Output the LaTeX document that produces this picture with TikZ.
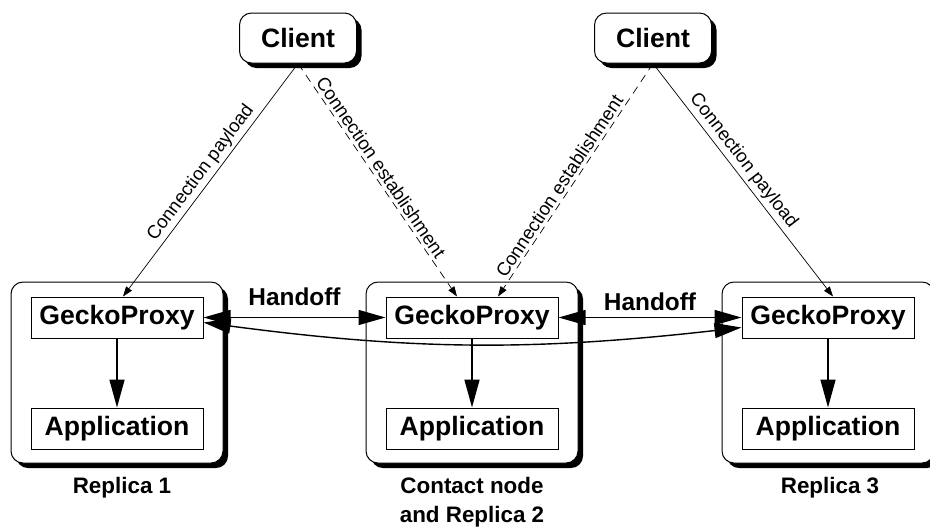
\documentclass[tikz,border=0pt]{standalone}
\usepackage{fontspec}
\setmainfont{Liberation Sans}
\usetikzlibrary{arrows.meta,shadows}

\tikzset{
	boxshadow/.style={drop shadow={shadow xshift=2.5pt,shadow yshift=-2.5pt,fill=black,opacity=1}},
	client/.style={draw,line width=0.5pt,rounded corners=6pt,fill=white,minimum width=58.5pt,minimum height=25pt,inner sep=0pt,font=\fontsize{13.3}{16}\selectfont\bfseries,boxshadow},
	replica/.style={draw,line width=0.5pt,rounded corners=6pt,fill=white,minimum width=106pt,minimum height=90.5pt,boxshadow},
	part/.style={draw,line width=0.5pt,fill=white,minimum width=86pt,minimum height=20.5pt,inner sep=0pt,font=\fontsize{13.3}{16}\selectfont\bfseries},
	bigarrow/.style={line width=0.8pt,-{Triangle[length=14pt,width=7.5pt]}},
	handoff/.style={line width=0.7pt,{Triangle[length=13.5pt,width=7.5pt]}-{Triangle[length=13.5pt,width=7.5pt]}},
	handofflabel/.style={inner sep=0pt,font=\fontsize{12.2}{14}\selectfont\bfseries},
	conn/.style={line width=0.35pt,-{Triangle[length=5pt,width=3.5pt]}},
	connlabel/.style={font=\fontsize{9.3}{11}\selectfont,sloped,above,inner sep=1.5pt},
	caption/.style={anchor=base,inner sep=0pt,font=\fontsize{11.2}{14.5}\selectfont\bfseries},
}

\begin{document}
\begin{tikzpicture}[
		x={(0.5pt,0pt)},
		y={(0pt,-0.5pt)},
	]
		\useasboundingbox (0,0) rectangle (930,527);
		\clip (0,0) rectangle (930,527);

		\node[client] (client1) at(298,38) {Client};
		\node[client] (client2) at(653,38) {Client};

		\foreach \n/\x in {1/117,2/472,3/828}{
			\node[replica] (replica\n) at(\x,372.5) {};
			\node[part] (proxy\n) at(\x,317.5) {GeckoProxy};
			\node[part] (app\n) at(\x,428.5) {Application};
			\draw[bigarrow] (proxy\n) -- (app\n);
		}

		% base of a two-line caption is its last line
		\node[caption] (caption1) at(122,493) {Replica 1};
		\node[caption,align=center] (caption2) at(472,522) {Contact node\\and Replica 2};
		\node[caption] (caption3) at(830,493) {Replica 3};

		\draw[handoff] (proxy1.east) -- node[handofflabel,above=5.5pt] (handoff1) {Handoff} (proxy2.west);
		\draw[handoff] (proxy2.east) -- node[handofflabel,above=3.2pt] (handoff2) {Handoff} (proxy3.west);
		\draw[handoff] ([yshift=-2.5pt]proxy1.east) to[bend right=7] ([yshift=-5pt]proxy3.west);

		\draw[conn] (client1.south) -- node[connlabel,pos=0.5] {Connection payload} ([xshift=3pt]proxy1.north);
		\draw[conn,dash pattern=on 4pt off 3pt] (client1.south) -- node[connlabel,pos=0.47] {Connection establishment} ([xshift=-7.5pt]proxy2.north);
		\draw[conn,dash pattern=on 4pt off 3pt] (client2.south) -- node[connlabel,pos=0.55] {Connection establishment} ([xshift=13pt]proxy2.north);
		\draw[conn] (client2.south) -- node[connlabel,pos=0.45] {Connection payload} ([xshift=2.5pt]proxy3.north);
	\end{tikzpicture}
\end{document}
